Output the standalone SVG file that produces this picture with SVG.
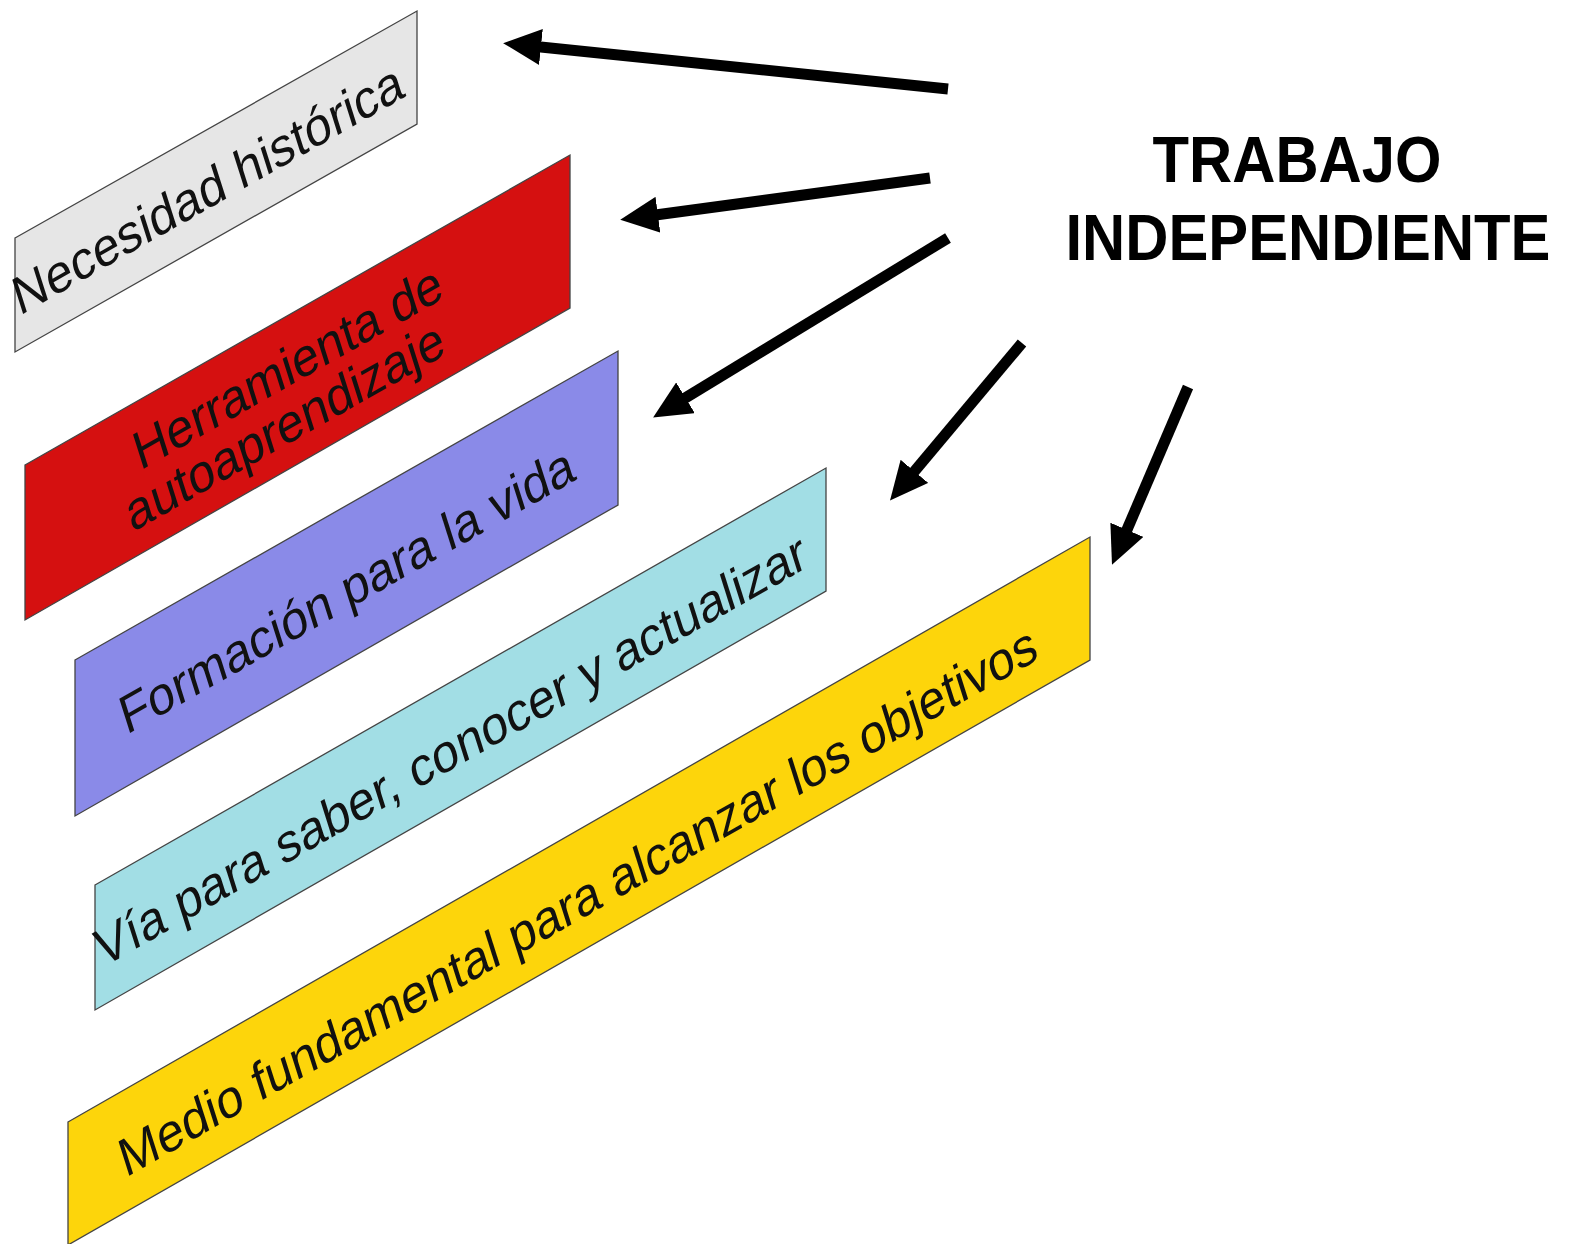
<svg xmlns="http://www.w3.org/2000/svg" width="1579" height="1244" viewBox="0 0 1579 1244">
<style>
.box{stroke:#444;stroke-width:1.3;}
.lbl{font-family:"Liberation Sans",Arial,sans-serif;font-size:51px;fill:#111;text-anchor:middle;}
.title{font-family:"Liberation Sans",Arial,sans-serif;font-weight:bold;font-size:65px;fill:#000;text-anchor:middle;}
.arr{stroke:#000;stroke-width:11;fill:none;marker-end:url(#head);}
</style>
<defs>
<marker id="head" markerUnits="userSpaceOnUse" markerWidth="38" markerHeight="36" viewBox="0 0 38 36" refX="10" refY="18" orient="auto">
<path d="M0,0 L38,18 L0,36 z" fill="#000"/>
</marker>
</defs>
<rect width="1579" height="1244" fill="#fff"/>
<g id="n1">
<polygon class="box" fill="#e6e6e6" points="15,238 417,11 417,124 15,352"/>
<text class="lbl" transform="translate(213,206) rotate(-29.6) skewX(-12)">Necesidad histórica</text>
</g>
<g id="n2">
<polygon class="box" fill="#d51010" points="25,465 570,155 570,308 25,620"/>
<text class="lbl" transform="translate(293,384) rotate(-29.6) skewX(-12)">Herramienta de</text>
<text class="lbl" transform="translate(290,443) rotate(-29.6) skewX(-12)">autoaprendizaje</text>
</g>
<g id="n3">
<polygon class="box" fill="#8a8ae8" points="75,660 618,351 618,505 75,816"/>
<text class="lbl" transform="translate(352,607) rotate(-29.6) skewX(-12)">Formación para la vida</text>
</g>
<g id="n4">
<polygon class="box" fill="#a2dee5" points="95,885 826,468 826,591 95,1010"/>
<text class="lbl" transform="translate(456,767) rotate(-29.6) skewX(-12)">Vía para saber, conocer y actualizar</text>
</g>
<g id="n5">
<polygon class="box" fill="#fdd50b" points="68,1122 1090,537 1090,660 68,1245"/>
<text class="lbl" transform="translate(583,918) rotate(-29.6) skewX(-12)">Medio fundamental para alcanzar los objetivos</text>
</g>
<g id="title">
<text class="title" transform="translate(1297,182) scale(0.92,1)">TRABAJO</text>
<text class="title" transform="translate(1308,260) scale(0.92,1)">INDEPENDIENTE</text>
</g>
<g id="connectors">
<line class="arr" x1="948" y1="89" x2="531" y2="46"/>
<line class="arr" x1="930" y1="178" x2="648" y2="216"/>
<line class="arr" x1="948" y1="238" x2="677" y2="403"/>
<line class="arr" x1="1022" y1="343" x2="908" y2="479"/>
<line class="arr" x1="1188" y1="387" x2="1123" y2="539"/>
</g>
</svg>
